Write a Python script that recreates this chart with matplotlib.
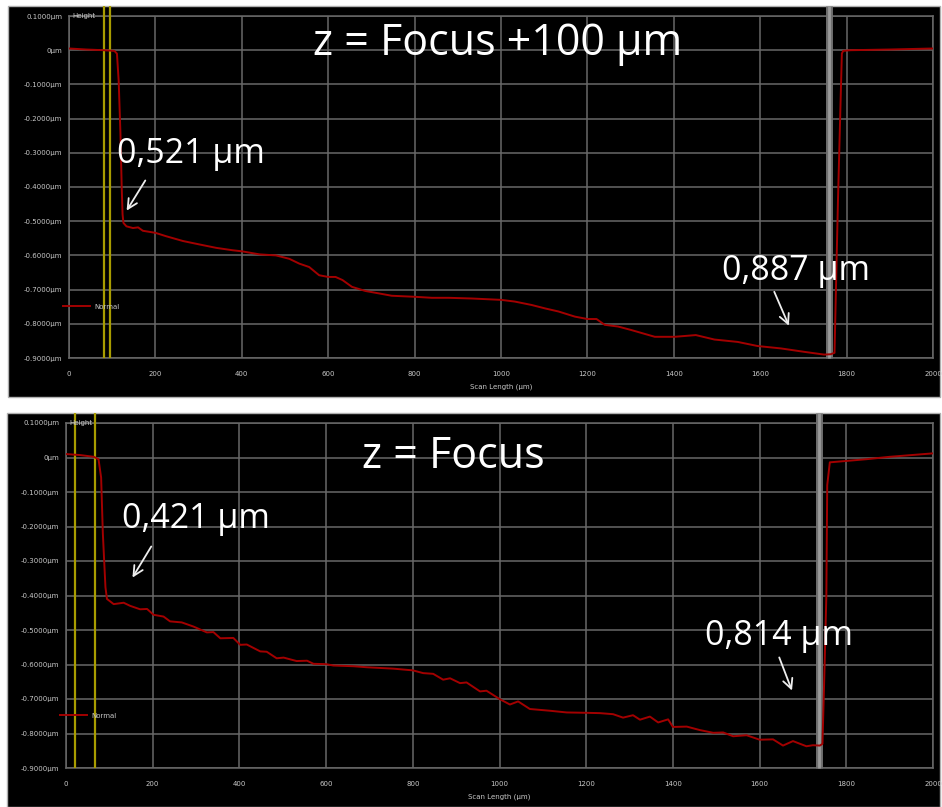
import matplotlib
matplotlib.use("Agg")
import matplotlib.pyplot as plt
from matplotlib.patches import Rectangle
from matplotlib.ticker import FuncFormatter

# Perfil superior: z = Focus +100 µm (Scan Length en µm, Height en µm)
top_x = [0, 40, 80, 105, 111, 115, 119, 122, 124, 126,
         133, 148, 160, 171, 200, 225, 264, 302, 341, 379,
         400, 441, 479, 510, 533, 556, 579, 600, 617, 633,
         655, 686, 717, 747, 800, 840, 879, 932, 1000, 1032,
         1071, 1102, 1133, 1171, 1200, 1221, 1240, 1271, 1301, 1356,
         1402, 1451, 1494, 1548, 1594, 1648, 1702, 1748, 1763, 1772,
         1780, 1789, 1792, 1809, 1900, 2000]
top_y = [0.005, 0.002, 0.0, -0.002, -0.01, -0.09, -0.24, -0.40, -0.48, -0.505,
         -0.515, -0.52, -0.518, -0.528, -0.534, -0.544, -0.558, -0.568, -0.578, -0.585,
         -0.588, -0.597, -0.600, -0.610, -0.624, -0.634, -0.658, -0.663, -0.663, -0.672,
         -0.692, -0.704, -0.711, -0.718, -0.721, -0.724, -0.724, -0.726, -0.730, -0.735,
         -0.745, -0.755, -0.764, -0.779, -0.786, -0.786, -0.803, -0.808, -0.818, -0.838,
         -0.838, -0.833, -0.846, -0.853, -0.865, -0.872, -0.882, -0.890, -0.889, -0.885,
         -0.44, -0.01, -0.002, 0.0, 0.002, 0.005]

# Perfil inferior: z = Focus
bot_x = [0, 33, 64, 75, 81, 85, 91, 94.5, 110, 133,
         148, 171, 187, 202, 225, 240, 267, 294, 325, 340,
         356, 386, 402, 417, 448, 463, 486, 502, 532, 556,
         571, 600, 617, 663, 694, 755, 800, 824, 847, 870,
         886, 909, 924, 955, 970, 1000, 1024, 1043, 1070, 1116,
         1155, 1200, 1232, 1262, 1285, 1308, 1324, 1347, 1366, 1389,
         1400, 1432, 1462, 1493, 1516, 1539, 1570, 1600, 1631, 1654,
         1677, 1708, 1723, 1739, 1745, 1750, 1754, 1756, 1762, 1800,
         1846, 1900, 2000]
bot_y = [0.01, 0.007, 0.002, -0.005, -0.058, -0.22, -0.376, -0.41, -0.425, -0.421,
         -0.430, -0.44, -0.439, -0.456, -0.461, -0.475, -0.478, -0.49, -0.507, -0.506,
         -0.524, -0.523, -0.543, -0.542, -0.562, -0.563, -0.582, -0.58, -0.59, -0.589,
         -0.598, -0.599, -0.603, -0.605, -0.608, -0.612, -0.617, -0.625, -0.627, -0.644,
         -0.640, -0.654, -0.652, -0.678, -0.676, -0.70, -0.716, -0.707, -0.729, -0.734,
         -0.739, -0.740, -0.741, -0.744, -0.754, -0.747, -0.760, -0.751, -0.768, -0.759,
         -0.781, -0.78, -0.790, -0.798, -0.797, -0.808, -0.805, -0.818, -0.817, -0.835,
         -0.822, -0.837, -0.834, -0.835, -0.83, -0.6, -0.40, -0.08, -0.014, -0.01,
         -0.005, 0.002, 0.012]

# Cursores (amarillos) y referencia (gris)
top_cursors = [81, 95]
top_ref = 1760
bot_cursors = [21, 68]
bot_ref = 1736

x_ticks = [0, 200, 400, 600, 800, 1000, 1200, 1400, 1600, 1800, 2000]
y_ticks = [0.1, 0.0, -0.1, -0.2, -0.3, -0.4, -0.5, -0.6, -0.7, -0.8, -0.9]

W, H = 942, 807
GRID = '#686868'
LABEL = '#c8c8c8'
RED = '#a30000'
TITLE_FONT = 'Open Sans'


def fmt_um(v, pos=None):
    if abs(v) < 1e-9:
        return '0µm'
    return f'{v:.4f}µm'


def px_rect(x0, y0, x1, y1):
    """Convierte un rectángulo en píxeles (origen arriba) a coordenadas de figura."""
    return [x0 / W, 1 - y1 / H, (x1 - x0) / W, (y1 - y0) / H]


def draw_panel(fig, bg, box, x, y, cursors, ref, title, title_pos, notes, legend_y):
    # Fondo negro del panel
    l, b, w, h = px_rect(*bg)
    fig.add_artist(Rectangle((l, b), w, h, transform=fig.transFigure,
                             facecolor='black', edgecolor='#b0b0b0', lw=1, zorder=-1))

    ax = fig.add_axes(px_rect(*box))
    ax.set_facecolor('black')
    ax.set_xlim(0, 2000)
    ax.set_ylim(-0.9, 0.1)
    ax.set_xticks(x_ticks)
    ax.set_yticks(y_ticks)
    ax.yaxis.set_major_formatter(FuncFormatter(fmt_um))
    ax.grid(True, color=GRID, lw=1.1)
    for s in ax.spines.values():
        s.set_color(GRID)
        s.set_linewidth(1.1)
    ax.tick_params(length=0, colors=LABEL, labelsize=5)
    ax.tick_params(axis='y', pad=5)
    ax.tick_params(axis='x', pad=9)

    # extensión sobre la línea superior hasta el borde del panel
    ext = 1 + (box[1] - bg[1]) / (box[3] - box[1])
    for c in cursors:
        ax.axvline(c, ymin=0, ymax=ext, color='#a89c00', lw=1.6, clip_on=False,
                   solid_capstyle='butt', zorder=3)
    ax.axvline(ref, ymin=0, ymax=ext, color='#6f6f6f', lw=5, clip_on=False,
               solid_capstyle='butt', zorder=3)
    ax.axvline(ref, ymin=0, ymax=ext, color='#9a9a9a', lw=2, clip_on=False,
               solid_capstyle='butt', zorder=3)

    ax.plot(x, y, color=RED, lw=1.4, label='Normal', zorder=4)

    ax.text(0.004, 1.0, 'Height', transform=ax.transAxes, color=LABEL,
            fontsize=5, ha='left', va='center')
    ax.text(0.5, -28.5 / (box[3] - box[1]), 'Scan Length (µm)', transform=ax.transAxes,
            color=LABEL, fontsize=5, ha='center', va='center')

    leg = ax.legend(loc='center left', bbox_to_anchor=(-0.007, legend_y), frameon=False,
                    fontsize=5, handlelength=3.9, handletextpad=0.6,
                    borderpad=0, borderaxespad=0)
    for t in leg.get_texts():
        t.set_color(LABEL)

    ax.text(title_pos[0], title_pos[1], title, color='white', fontsize=31,
            family=TITLE_FONT, ha='center', va='baseline', zorder=5)

    for label, txt_xy, start, end in notes:
        ax.text(txt_xy[0], txt_xy[1], label, color='white', fontsize=24.5,
                family=TITLE_FONT, ha='left', va='baseline', zorder=5)
        ax.annotate('', xy=end, xytext=start,
                    arrowprops=dict(arrowstyle='->,head_length=0.7,head_width=0.35',
                                    color='#eeeeee', lw=1.3), zorder=5)
    return ax


fig = plt.figure(figsize=(W / 100, H / 100), dpi=100)
fig.patch.set_facecolor('white')

draw_panel(fig, (8, 6, 940, 397), (69, 16, 933, 358), top_x, top_y,
           top_cursors, top_ref, 'z = Focus +100 µm', (992, -0.014),
           [('0,521 µm', (111, -0.33), (180, -0.374), (130, -0.476)),
            ('0,887 µm', (1511, -0.672), (1630, -0.699), (1669, -0.813))],
           0.15)

draw_panel(fig, (7, 413, 940, 807), (66, 423, 933, 768), bot_x, bot_y,
           bot_cursors, bot_ref, 'z = Focus', (893, -0.031),
           [('0,421 µm', (129, -0.205), (200, -0.251), (150, -0.355)),
            ('0,814 µm', (1474, -0.543), (1643, -0.572), (1677, -0.683))],
           0.151)

fig.savefig('out.png', dpi=100, facecolor='white')
